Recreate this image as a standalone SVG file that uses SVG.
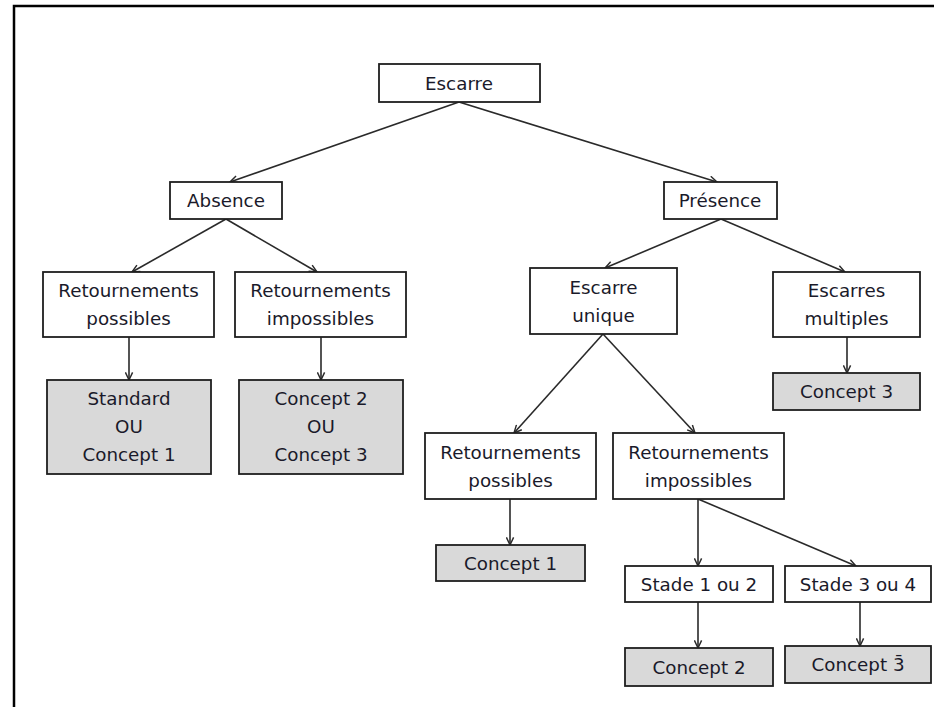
<svg xmlns="http://www.w3.org/2000/svg" width="934" height="707" viewBox="0 0 934 707">
<style>
.box{fill:#ffffff;stroke:#1e1e1e;stroke-width:1.8}
.res{fill:#d9d9d9;stroke:#1e1e1e;stroke-width:1.8}
.t{font-family:"DejaVu Sans","Open Sans",sans-serif;font-size:18.3px;fill:#1a1a2a;text-anchor:middle}
.c{stroke:#2a2a2a;stroke-width:1.6;fill:none;marker-end:url(#arr)}
.frame{stroke:#000;stroke-width:2.5;fill:none}
</style>
<defs>
<marker id="arr" viewBox="0 0 10 10" refX="9.5" refY="5" markerWidth="9" markerHeight="9" markerUnits="userSpaceOnUse" orient="auto">
<path d="M1,1 L9.5,5 L1,9" fill="none" stroke="#2a2a2a" stroke-width="1.6"/>
</marker>
</defs>
<rect width="934" height="707" fill="#ffffff"/>
<path class="frame" d="M14,707 L14,6 L934,6"/>
<g id="connectors">
<line class="c" x1="459" y1="102" x2="230" y2="182"/>
<line class="c" x1="459" y1="102" x2="717" y2="182"/>
<line class="c" x1="226" y1="219" x2="132" y2="272"/>
<line class="c" x1="226" y1="219" x2="317" y2="272"/>
<line class="c" x1="129" y1="337" x2="129" y2="380"/>
<line class="c" x1="321" y1="337" x2="321" y2="380"/>
<line class="c" x1="721" y1="219" x2="605" y2="268"/>
<line class="c" x1="721" y1="219" x2="845" y2="272"/>
<line class="c" x1="847" y1="337" x2="847" y2="373"/>
<line class="c" x1="603" y1="334" x2="514" y2="433"/>
<line class="c" x1="603" y1="334" x2="695" y2="433"/>
<line class="c" x1="510" y1="499" x2="510" y2="545"/>
<line class="c" x1="698" y1="499" x2="698" y2="566"/>
<line class="c" x1="698" y1="499" x2="856" y2="566"/>
<line class="c" x1="698" y1="602" x2="698" y2="648"/>
<line class="c" x1="860" y1="602" x2="860" y2="646"/>
</g>
<g id="escarre"><rect class="box" x="379" y="64" width="161" height="38"/><text class="t" x="459" y="89.5">Escarre</text></g>
<g id="absence"><rect class="box" x="170" y="182" width="112" height="37"/><text class="t" x="226" y="207">Absence</text></g>
<g id="presence"><rect class="box" x="664" y="182" width="113" height="37"/><text class="t" x="720" y="207">Présence</text></g>
<g id="ret-poss-a"><rect class="box" x="43" y="272" width="171" height="65"/><text class="t" x="128.5" y="297">Retournements</text><text class="t" x="128.5" y="325">possibles</text></g>
<g id="ret-imp-a"><rect class="box" x="235" y="272" width="171" height="65"/><text class="t" x="320.5" y="297">Retournements</text><text class="t" x="320.5" y="325">impossibles</text></g>
<g id="res-std"><rect class="res" x="47" y="380" width="164" height="94"/><text class="t" x="129" y="405">Standard</text><text class="t" x="129" y="433">OU</text><text class="t" x="129" y="461">Concept 1</text></g>
<g id="res-c23"><rect class="res" x="239" y="380" width="164" height="94"/><text class="t" x="321" y="405">Concept 2</text><text class="t" x="321" y="433">OU</text><text class="t" x="321" y="461">Concept 3</text></g>
<g id="unique"><rect class="box" x="530" y="268" width="147" height="66"/><text class="t" x="603.5" y="293.5">Escarre</text><text class="t" x="603.5" y="321.5">unique</text></g>
<g id="multiples"><rect class="box" x="773" y="272" width="147" height="65"/><text class="t" x="846.5" y="297">Escarres</text><text class="t" x="846.5" y="325">multiples</text></g>
<g id="res-mult"><rect class="res" x="773" y="373" width="147" height="37"/><text class="t" x="846.5" y="398">Concept 3</text></g>
<g id="ret-poss-b"><rect class="box" x="425" y="433" width="171" height="66"/><text class="t" x="510.5" y="458.5">Retournements</text><text class="t" x="510.5" y="486.5">possibles</text></g>
<g id="ret-imp-b"><rect class="box" x="613" y="433" width="171" height="66"/><text class="t" x="698.5" y="458.5">Retournements</text><text class="t" x="698.5" y="486.5">impossibles</text></g>
<g id="res-c1"><rect class="res" x="436" y="545" width="149" height="36"/><text class="t" x="510.5" y="569.5">Concept 1</text></g>
<g id="stade12"><rect class="box" x="625" y="566" width="148" height="36"/><text class="t" x="699" y="590.5">Stade 1 ou 2</text></g>
<g id="stade34"><rect class="box" x="785" y="566" width="146" height="36"/><text class="t" x="858" y="590.5">Stade 3 ou 4</text></g>
<g id="res-c2"><rect class="res" x="625" y="648" width="148" height="38"/><text class="t" x="699" y="673.5">Concept 2</text></g>
<g id="res-c3b"><rect class="res" x="785" y="646" width="146" height="37"/><text class="t" x="858" y="671">Concept 3̄</text></g>
</svg>
